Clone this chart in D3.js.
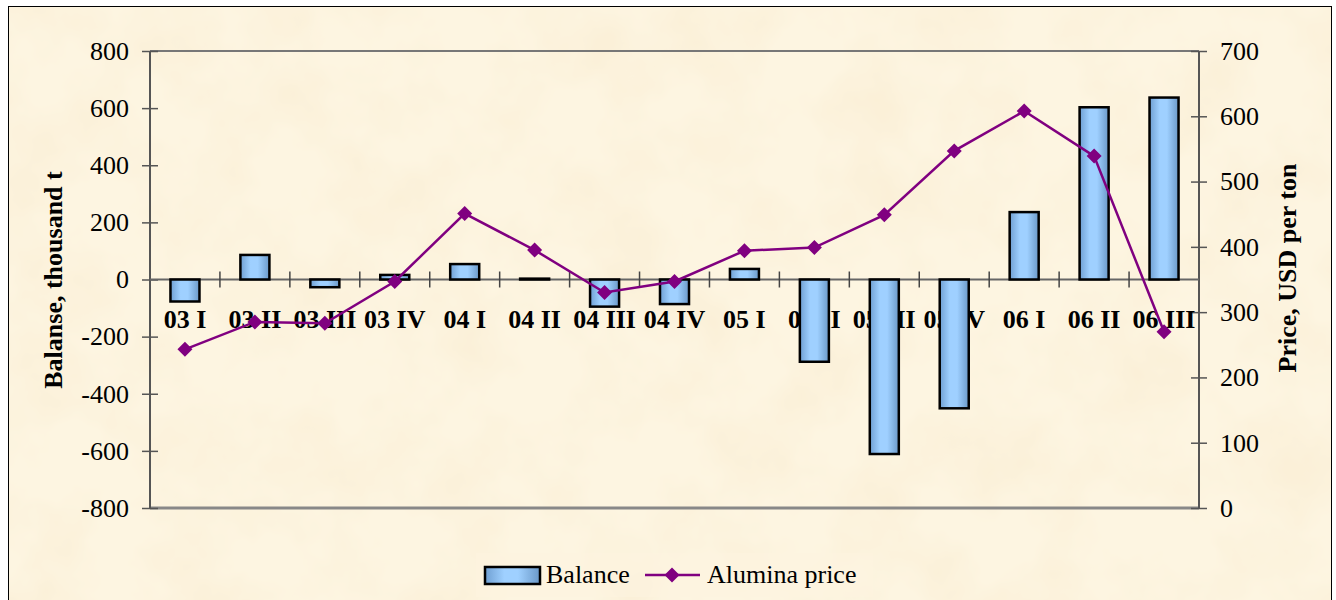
<!DOCTYPE html>
<html><head><meta charset="utf-8">
<script src="https://cdn.jsdelivr.net/npm/d3@7"></script>
<style>html,body{margin:0;padding:0;background:#fff;}svg{display:block;}</style>
</head><body>
<script>
const categories = ["03 I","03 II","03 III","03 IV","04 I","04 II","04 III","04 IV","05 I","05 II","05 III","05 IV","06 I","06 II","06 III"];
const balance = [-77, 86, -27, 16, 54, 3, -95, -86, 37, -288, -611, -451, 236, 603, 637];
const aluminaPrice = [243, 285, 283, 347, 451, 395, 330, 347, 394, 399, 449, 547, 608, 539, 270];
const leftTicks = [-800,-600,-400,-200,0,200,400,600,800];
const rightTicks = [0,100,200,300,400,500,600,700];
const seriesNames = ["Balance","Alumina price"];
const axisTitles = ["Balanse, thousand t","Price, USD per ton"];

const W = 1336, H = 600;
const m = {l:150, r:1199, t:51, b:508};
const font = "'Liberation Serif','Times New Roman',serif";

const svg = d3.select("body").append("svg").attr("width",W).attr("height",H);
const defs = svg.append("defs");

// bar gradient
const g = defs.append("linearGradient").attr("id","barGrad").attr("x1","0%").attr("x2","100%").attr("y1","0%").attr("y2","0%");
g.append("stop").attr("offset","0%").attr("stop-color","#6f9fd2");
g.append("stop").attr("offset","35%").attr("stop-color","#9fd0ff");
g.append("stop").attr("offset","60%").attr("stop-color","#9fd0ff");
g.append("stop").attr("offset","100%").attr("stop-color","#6a98c8");

// parchment texture
const f = defs.append("filter").attr("id","paper").attr("x","0").attr("y","0").attr("width","100%").attr("height","100%");
f.append("feTurbulence").attr("type","fractalNoise").attr("baseFrequency","0.012").attr("numOctaves","4").attr("seed","7").attr("result","n");
f.append("feColorMatrix").attr("in","n").attr("type","matrix")
 .attr("values","0 0 0 0 0.93  0 0 0 0 0.80  0 0 0 0 0.58  0.8 0 0 0 -0.31");

// frame background
svg.append("rect").attr("x",8.5).attr("y",6.5).attr("width",1323).attr("height",600)
  .attr("fill","#fdf5e1").attr("stroke","#000").attr("stroke-width",1);
svg.append("rect").attr("x",9).attr("y",7).attr("width",1322).attr("height",593)
  .attr("fill","#000").attr("filter","url(#paper)");

const x = d3.scaleBand().domain(categories).range([m.l, m.r]).paddingInner(0.585).paddingOuter(0.2925);
const step = x.step();
const yL = d3.scaleLinear().domain([-800,800]).range([m.b, m.t]);
const yR = d3.scaleLinear().domain([0,700]).range([m.b, m.t]);
const axisColor = "#555";
const fmt = d => String(d);

// top and bottom borders of plot area
svg.append("line").attr("x1",m.l).attr("x2",m.r).attr("y1",m.t).attr("y2",m.t).attr("stroke","#777").attr("stroke-width",2);
svg.append("line").attr("x1",m.l).attr("x2",m.r).attr("y1",m.b).attr("y2",m.b).attr("stroke","#888").attr("stroke-width",3);

// left axis
const la = svg.append("g").attr("transform",`translate(${m.l},0)`)
  .call(d3.axisLeft(yL).tickValues(leftTicks).tickSize(8).tickPadding(13).tickFormat(fmt));
la.select(".domain").remove();
la.selectAll(".tick line").attr("x2",8).attr("x1",-8).attr("stroke",axisColor).attr("stroke-width",1.5);
la.selectAll(".tick text").attr("font-family",font).attr("font-size",26).attr("fill","#000");
svg.append("line").attr("x1",m.l).attr("x2",m.l).attr("y1",m.t).attr("y2",m.b).attr("stroke",axisColor).attr("stroke-width",2);

// right axis
const ra = svg.append("g").attr("transform",`translate(${m.r},0)`)
  .call(d3.axisRight(yR).tickValues(rightTicks).tickSize(8).tickPadding(13).tickFormat(fmt));
ra.select(".domain").remove();
ra.selectAll(".tick line").attr("x1",-8).attr("x2",8).attr("stroke",axisColor).attr("stroke-width",1.5);
ra.selectAll(".tick text").attr("font-family",font).attr("font-size",26).attr("fill","#000");
svg.append("line").attr("x1",m.r).attr("x2",m.r).attr("y1",m.t).attr("y2",m.b).attr("stroke",axisColor).attr("stroke-width",2);

// category labels (under the series)
svg.append("g").selectAll("text").data(categories).join("text")
  .attr("x",d=>x(d)+x.bandwidth()/2).attr("y",328)
  .attr("text-anchor","middle").attr("font-family",font).attr("font-weight","bold").attr("font-size",26)
  .text(d=>d);

// zero line with cross ticks at category boundaries
const y0 = yL(0);
svg.append("line").attr("x1",m.l).attr("x2",m.r).attr("y1",y0).attr("y2",y0).attr("stroke","#666").attr("stroke-width",2);
svg.append("g").selectAll("line").data(d3.range(1,categories.length)).join("line")
  .attr("x1",i=>m.l+i*step).attr("x2",i=>m.l+i*step).attr("y1",y0-8).attr("y2",y0+8)
  .attr("stroke","#444").attr("stroke-width",1.5);

// bars
svg.append("g").selectAll("rect").data(categories).join("rect")
  .attr("x",(d)=>x(d))
  .attr("width",x.bandwidth())
  .attr("y",(d,i)=>Math.min(yL(balance[i]),y0))
  .attr("height",(d,i)=>Math.max(Math.abs(yL(balance[i])-y0),0.5))
  .attr("fill","url(#barGrad)").attr("stroke","#000").attr("stroke-width",2.5);

// line
const cx = (d)=>x(d)+x.bandwidth()/2;
const line = d3.line().x((d,i)=>cx(categories[i])).y(d=>yR(d));
svg.append("path").datum(aluminaPrice).attr("d",line).attr("fill","none").attr("stroke","#800080").attr("stroke-width",2.5);
const diamond = "M0,-7.5L7.5,0L0,7.5L-7.5,0Z";
svg.append("g").selectAll("path").data(aluminaPrice).join("path")
  .attr("d",diamond).attr("transform",(d,i)=>`translate(${cx(categories[i])},${yR(d)})`)
  .attr("fill","#800080");

// axis titles
svg.append("text").attr("transform","translate(62,280) rotate(-90)").attr("text-anchor","middle")
  .attr("font-family",font).attr("font-weight","bold").attr("font-size",26).text(axisTitles[0]);
svg.append("text").attr("transform","translate(1296,268) rotate(-90)").attr("text-anchor","middle")
  .attr("font-family",font).attr("font-weight","bold").attr("font-size",26).text(axisTitles[1]);

// legend
const lg = svg.append("g");
lg.append("rect").attr("x",476).attr("y",553).attr("width",397).attr("height",44).attr("fill","#fdf4e0").attr("opacity",0.6);
lg.append("rect").attr("x",485).attr("y",567).attr("width",55).attr("height",17)
  .attr("fill","url(#barGrad)").attr("stroke","#000").attr("stroke-width",2.5);
lg.append("text").attr("x",546).attr("y",583).attr("font-family",font).attr("font-size",26).text(seriesNames[0]);
lg.append("line").attr("x1",645).attr("x2",700).attr("y1",575).attr("y2",575).attr("stroke","#800080").attr("stroke-width",2.5);
lg.append("path").attr("d",diamond).attr("transform","translate(672,575)").attr("fill","#800080");
lg.append("text").attr("x",707).attr("y",583).attr("font-family",font).attr("font-size",26).text(seriesNames[1]);
</script>
</body></html>
